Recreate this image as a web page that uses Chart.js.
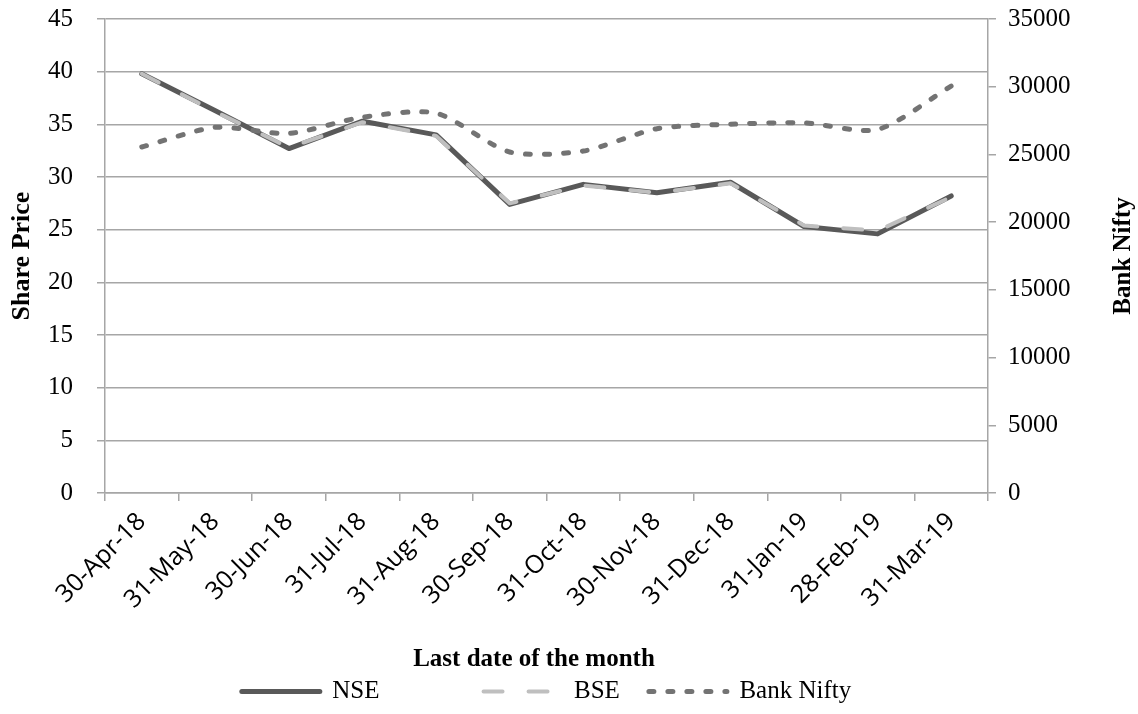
<!DOCTYPE html>
<html>
<head>
<meta charset="utf-8">
<script src="https://cdn.jsdelivr.net/npm/chart.js@4/dist/chart.umd.min.js"></script>
<style>
  html, body { margin: 0; padding: 0; background: #fff; }
  #wrap { width: 1138px; height: 714px; }
</style>
</head>
<body>
<div id="wrap"><canvas id="priceChart" width="1138" height="714"></canvas></div>
<script>
// month-end dates
const months = ['30-Apr-18', '31-May-18', '30-Jun-18', '31-Jul-18', '31-Aug-18', '30-Sep-18',
  '31-Oct-18', '30-Nov-18', '31-Dec-18', '31-Jan-19', '28-Feb-19', '31-Mar-19'];

// share prices (left axis)
const nse = [39.8, 36.3, 32.7, 35.3, 34.0, 27.4, 29.3, 28.5, 29.5, 25.3, 24.6, 28.2];
const bse = [39.8, 36.2, 32.8, 35.2, 33.9, 27.5, 29.2, 28.5, 29.4, 25.4, 24.9, 28.1];

// Bank Nifty index (right axis)
const bankNifty = [25550, 27000, 26550, 27750, 28050, 25180, 25250, 26900, 27230, 27330, 26840, 30050];

const leftTicks = { min: 0, max: 45, step: 5 };
const rightTicks = { min: 0, max: 35000, step: 5000 };

const serif = "'Liberation Serif', 'DejaVu Serif', serif";
const gridGrey = '#a6a6a6';

// extra room after each legend entry (Excel spaces them unevenly)
const legendGap = ['\u2003\u2003\u2003\u2003', '\u2003', ''];

const ctx = document.getElementById('priceChart');

// keep the plot box where Excel put it (top edge at y=19)
function fixSide(width) {
  return (scale) => {
    scale.width = width;
    scale.paddingTop = 19;
    scale.paddingBottom = 12;
  };
}

// right axis title reads bottom-to-top in the original, chart.js turns it the other way
const rightTitle = {
  id: 'rightTitle',
  afterDraw(chart) {
    const c = chart.ctx;
    const area = chart.chartArea;
    c.save();
    c.translate(1124, (area.top + area.bottom) / 2);
    c.rotate(-Math.PI / 2);
    c.font = 'bold 25px ' + serif;
    c.fillStyle = '#000';
    c.textAlign = 'center';
    c.textBaseline = 'middle';
    c.fillText('Bank Nifty', 0, 0);
    c.restore();
  }
};

new Chart(ctx, {
  type: 'line',
  data: {
    labels: months,
    datasets: [
      {
        label: 'NSE', data: nse, yAxisID: 'y',
        borderColor: '#595959', borderWidth: 5, tension: 0, pointRadius: 0,
        borderCapStyle: 'round', borderJoinStyle: 'round', order: 3
      },
      {
        label: 'BSE', data: bse, yAxisID: 'y',
        borderColor: '#bfbfbf', borderWidth: 4, borderDash: [19, 26], tension: 0, pointRadius: 0,
        borderCapStyle: 'round', borderJoinStyle: 'round', order: 2
      },
      {
        label: 'Bank Nifty', data: bankNifty, yAxisID: 'y1',
        borderColor: '#737373', borderWidth: 5, borderDash: [5, 14], tension: 0.25, pointRadius: 0,
        borderCapStyle: 'round', order: 1
      }
    ]
  },
  plugins: [rightTitle],
  options: {
    responsive: false,
    animation: false,
    layout: { padding: { top: 0, right: 0, left: 0, bottom: 0 } },
    plugins: {
      tooltip: { enabled: false },
      legend: {
        position: 'bottom',
        fullSize: false,
        labels: {
          usePointStyle: true, pointStyleWidth: 78, boxHeight: 20,
          padding: 4, color: '#000',
          font: { family: serif, size: 25 },
          generateLabels: (chart) => chart.data.datasets.map((ds, i) => ({
            text: ds.label + legendGap[i],
            datasetIndex: i,
            hidden: false,
            fontColor: '#000',
            fillStyle: ds.borderColor,
            strokeStyle: ds.borderColor,
            lineWidth: ds.borderWidth,
            lineDash: ds.borderDash || [],
            lineCap: 'round',
            pointStyle: 'line'
          }))
        }
      }
    },
    scales: {
      x: {
        offset: true,
        grid: { display: true, drawOnChartArea: false, drawTicks: true, tickLength: 8, color: gridGrey, lineWidth: 1.5, offset: true },
        border: { color: gridGrey, width: 1.5 },
        ticks: {
          color: '#000', maxRotation: 45, minRotation: 45, padding: 6,
          font: { family: "'Open Sans', 'DejaVu Sans', sans-serif", size: 25 }
        },
        title: {
          display: true, text: 'Last date of the month\u2003', color: '#000',
          font: { family: serif, size: 25, weight: 'bold' }, padding: { top: 0, bottom: 0 }
        },
        afterFit: (scale) => { scale.height = 182; }
      },
      y: {
        position: 'left', min: leftTicks.min, max: leftTicks.max,
        grid: { color: gridGrey, lineWidth: 1.5, tickLength: 8 },
        border: { color: gridGrey, width: 1.5 },
        ticks: { stepSize: leftTicks.step, color: '#000', padding: 24, font: { family: serif, size: 25 } },
        title: {
          display: true, text: 'Share Price', color: '#000',
          font: { family: serif, size: 26, weight: 'bold' }, padding: { top: 7, bottom: 0 }
        },
        afterFit: fixSide(105)
      },
      y1: {
        position: 'right', min: rightTicks.min, max: rightTicks.max,
        grid: { drawOnChartArea: false, color: gridGrey, lineWidth: 1.5, tickLength: 8 },
        border: { color: gridGrey, width: 1.5 },
        ticks: {
          stepSize: rightTicks.step, color: '#000', padding: 12, font: { family: serif, size: 25 },
          callback: (v) => String(v)
        },
        title: { display: false },
        afterFit: fixSide(150)
      }
    }
  }
});
</script>
</body>
</html>
